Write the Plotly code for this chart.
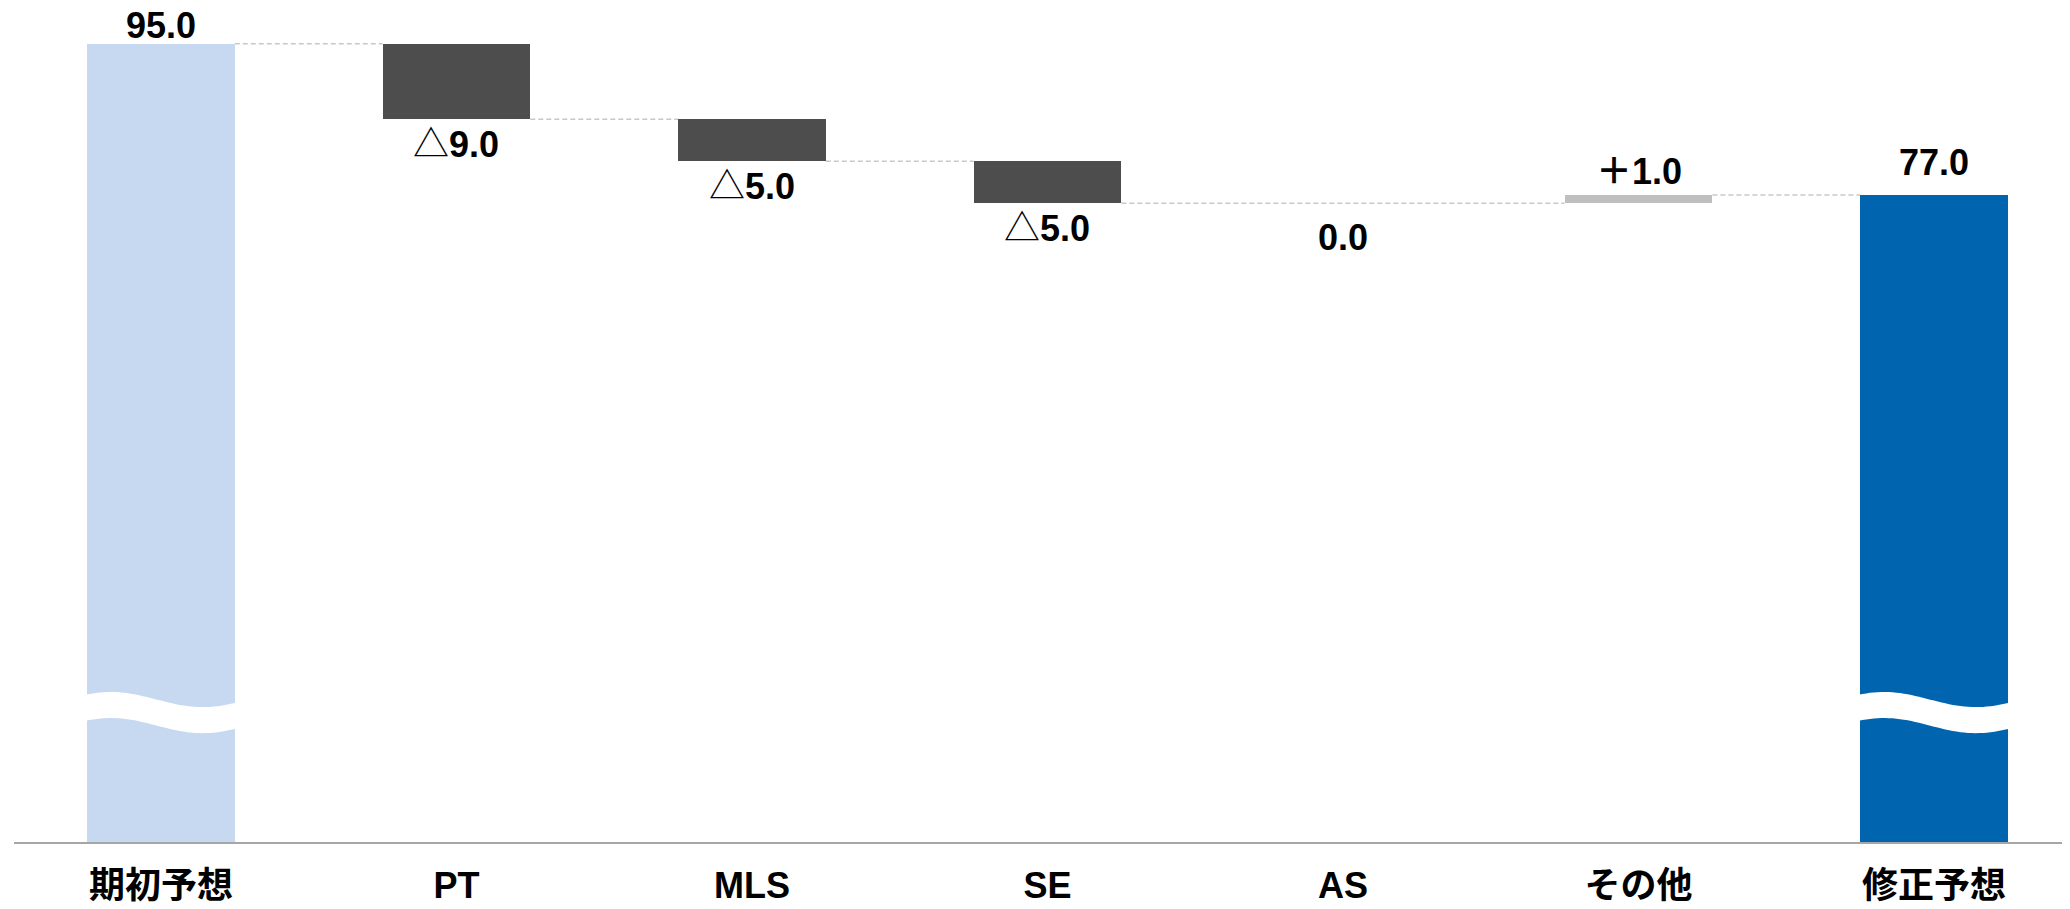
import math
import plotly.graph_objects as go

# ---- data ----
categories = ["期初予想", "PT", "MLS", "SE", "AS", "その他", "修正予想"]
measures = ["absolute", "relative", "relative", "relative", "relative", "relative", "total"]
values = [95.0, -9.0, -5.0, -5.0, 0.0, 1.0, 77.0]

# ---- style ----
COL_START = "#C6D9F1"
COL_DEC = "#4D4D4D"
COL_INC = "#BFBFBF"
COL_TOTAL = "#0064AF"
FONT = "Liberation Sans, Arial, Noto Sans CJK JP, sans-serif"
BAR_W = 0.5
LABEL_SHIFT = [-4, -3, -3, -3, -12, 1, 10]   # pixel nudges of the value labels

# compute bar geometry from data
bases, heights, colors, levels = [], [], [], []
running = 0.0
for m, v in zip(measures, values):
    if m == "absolute":
        running = v
        bases.append(0.0); heights.append(v); colors.append(COL_START)
    elif m == "total":
        bases.append(0.0); heights.append(running); colors.append(COL_TOTAL)
    else:
        lo = min(running, running + v)
        bases.append(lo); heights.append(abs(v))
        colors.append(COL_DEC if v < 0 else COL_INC)
        running += v
    levels.append(running)

xs = list(range(len(categories)))

fig = go.Figure()
fig.add_trace(go.Bar(
    x=xs, y=heights, base=bases, width=BAR_W,
    marker=dict(color=colors, line=dict(width=0)),
    hoverinfo="skip", showlegend=False,
))

# value labels
annotations = []
for i, (m, v) in enumerate(zip(measures, values)):
    top = bases[i] + heights[i]
    bot = bases[i]
    if m in ("absolute", "total"):
        txt = f"<b>{v:.1f}</b>"
        annotations.append(dict(x=i, y=top, text=txt, yanchor="bottom"))
    elif v < 0:
        txt = f"△<b>{abs(v):.1f}</b>"
        annotations.append(dict(x=i, y=bot, text=txt, yanchor="top"))
    elif v > 0:
        txt = f"<b>＋{v:.1f}</b>"
        annotations.append(dict(x=i, y=top, text=txt, yanchor="bottom"))
    else:
        txt = f"<b>{v:.1f}</b>"
        annotations.append(dict(x=i, y=bot, text=txt, yanchor="top"))
for i, a in enumerate(annotations):
    a.update(xref="x", yref="y", showarrow=False, yshift=LABEL_SHIFT[i],
             font=dict(family=FONT, size=36, color="#000000"))

shapes = []
# connectors: from each bar to next non-zero bar
nonzero = [i for i in xs if heights[i] != 0]
for a, b in zip(nonzero[:-1], nonzero[1:]):
    lvl = levels[a]
    shapes.append(dict(type="line", xref="x", yref="y",
                       x0=a + BAR_W / 2, x1=b - BAR_W / 2, y0=lvl, y1=lvl,
                       line=dict(color="#C8C8C8", width=1.5, dash="5px,3px"),
                       layer="below"))

# axis-break wave decoration on the absolute/total bars
def wave_path(i):
    c, A, th = 16.95, 0.9, 3.1
    x_l = i - BAR_W / 2 - 0.005
    x_r = i + BAR_W / 2 + 0.005
    n = 40
    top = []
    for k in range(n + 1):
        f = k / n
        y = c + A * math.cos(2 * math.pi * (f - 0.169) / 1.216)
        top.append((x_l + f * (x_r - x_l), y))
    pts = top + [(x, y - th) for (x, y) in reversed(top)]
    return "M " + " L ".join(f"{x:.4f},{y:.4f}" for x, y in pts) + " Z"

for i, m in enumerate(measures):
    if m in ("absolute", "total"):
        shapes.append(dict(type="path", xref="x", yref="y", path=wave_path(i),
                           fillcolor="#FFFFFF", line=dict(width=0), layer="above"))

fig.update_layout(
    width=2062, height=901,
    margin=dict(l=6, r=0, t=0, b=67),
    paper_bgcolor="#FFFFFF", plot_bgcolor="#FFFFFF",
    bargap=0,
    shapes=shapes,
    annotations=annotations,
    font=dict(family=FONT, color="#000000"),
    xaxis=dict(
        range=[-0.497, 6.46], tickmode="array", tickvals=xs,
        ticktext=[f"<b>{c}</b>" for c in categories],
        tickfont=dict(family=FONT, size=36, color="#000000"),
        showgrid=False, zeroline=False, showline=True,
        linecolor="#A6A6A6", linewidth=2, ticks="", ticklabelstandoff=11,
        fixedrange=True,
    ),
    yaxis=dict(range=[0, 99.24], visible=False, showgrid=False, zeroline=False,
               fixedrange=True),
)

fig.write_html("out.html")
